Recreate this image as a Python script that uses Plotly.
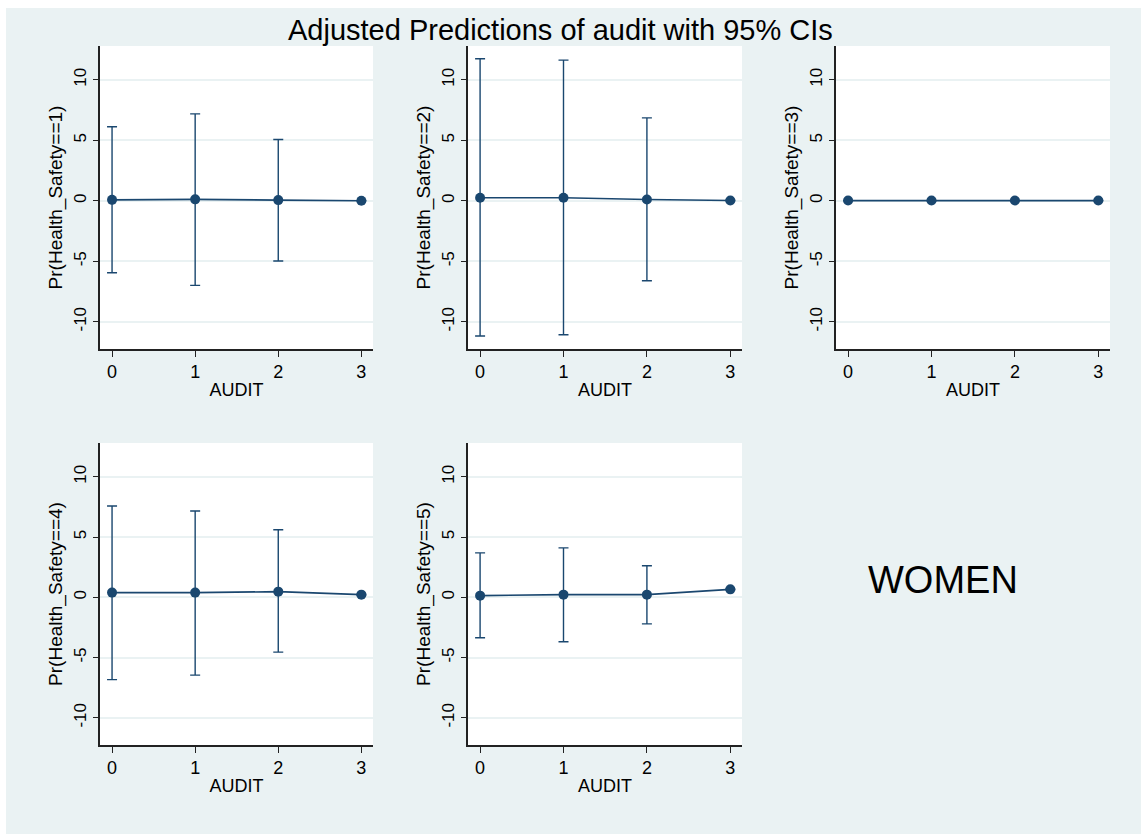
import plotly.graph_objects as go

W, H = 1141, 834
BG = "#EAF2F3"
NAVY = "#1a476f"
FONT = "Liberation Sans, Arial, sans-serif"

audit = [0, 1, 2, 3]
x_ticks = [0, 1, 2, 3]
y_ticks = [-10, -5, 0, 5, 10]
y_tick_labels = ["-10", "-5", "0", "5", "10"]

title_text = "Adjusted Predictions of audit with 95% CIs"
panel_label = "WOMEN"
x_title = "AUDIT"
y_titles = ["Pr(Health_Safety==1)", "Pr(Health_Safety==2)", "Pr(Health_Safety==3)",
            "Pr(Health_Safety==4)", "Pr(Health_Safety==5)"]

est_1 = [0.08, 0.12, 0.06, 0.01]
hi_1 = [6.12, 7.19, 5.07, 0.02]
lo_1 = [-5.95, -6.99, -4.98, 0.0]

est_2 = [0.25, 0.25, 0.11, 0.03]
hi_2 = [11.74, 11.63, 6.86, 0.05]
lo_2 = [-11.18, -11.07, -6.61, 0.01]

est_3 = [0.02, 0.02, 0.02, 0.02]
hi_3 = [0.03, 0.03, 0.03, 0.03]
lo_3 = [0.01, 0.01, 0.01, 0.01]

est_4 = [0.39, 0.39, 0.47, 0.22]
hi_4 = [7.58, 7.16, 5.60, 0.25]
lo_4 = [-6.83, -6.45, -4.55, 0.19]

est_5 = [0.14, 0.22, 0.22, 0.66]
hi_5 = [3.69, 4.10, 2.62, 0.70]
lo_5 = [-3.36, -3.69, -2.20, 0.62]

panels = [(est_1, hi_1, lo_1), (est_2, hi_2, lo_2), (est_3, hi_3, lo_3),
          (est_4, hi_4, lo_4), (est_5, hi_5, lo_5)]

# pixel boxes of plot regions (left, right, top, bottom)
boxes = [(100, 373, 46, 349), (468, 742, 46, 349), (836, 1110, 46, 349),
         (100, 373, 443, 745), (468, 742, 443, 745)]

fig = go.Figure()
layout = dict(
    width=W, height=H,
    margin=dict(l=0, r=0, t=0, b=0),
    paper_bgcolor=BG, plot_bgcolor="white",
    showlegend=False,
    font=dict(family=FONT, color="black"),
)

for i, ((est, hi, lo), (l, r, t, b)) in enumerate(zip(panels, boxes)):
    n = i + 1
    xa = "x" if n == 1 else f"x{n}"
    ya = "y" if n == 1 else f"y{n}"
    plus = [h - e for h, e in zip(hi, est)]
    minus = [e - lo_ for e, lo_ in zip(est, lo)]
    fig.add_trace(go.Scatter(
        x=audit, y=est, mode="lines+markers", xaxis=xa, yaxis=ya,
        line=dict(color=NAVY, width=1.6),
        marker=dict(color=NAVY, size=10),
        error_y=dict(type="data", array=plus, arrayminus=minus, symmetric=False,
                     color=NAVY, thickness=1.4, width=5),
        cliponaxis=False,
    ))
    xkey = "xaxis" if n == 1 else f"xaxis{n}"
    ykey = "yaxis" if n == 1 else f"yaxis{n}"
    layout[xkey] = dict(
        domain=[l / W, r / W], anchor=ya, range=[-0.145, 3.14],
        tickvals=x_ticks, ticktext=[str(v) for v in x_ticks],
        showgrid=False, zeroline=False,
        showline=True, linecolor="#222222", linewidth=1.5,
        ticks="outside", ticklen=6, tickwidth=1.4, tickcolor="#222222",
        tickfont=dict(size=18, family=FONT, color="black"),
        title=dict(text=x_title, font=dict(size=18, family=FONT, color="black"), standoff=2),
        fixedrange=True,
    )
    layout[ykey] = dict(
        domain=[1 - b / H, 1 - t / H], anchor=xa, range=[-12.25, 12.8],
        tickvals=y_ticks, ticktext=y_tick_labels, tickangle=-90,
        showgrid=True, gridcolor=BG, gridwidth=2, zeroline=False,
        showline=True, linecolor="#222222", linewidth=1.5,
        ticks="outside", ticklen=5, tickwidth=1.4, tickcolor="#222222",
        tickfont=dict(size=17, family=FONT, color="black"),
        title=dict(text=y_titles[i], font=dict(size=19, family=FONT, color="black"), standoff=4),
        fixedrange=True,
    )

layout["shapes"] = [
    dict(type="rect", xref="paper", yref="paper", x0=0, x1=6 / W, y0=0, y1=1,
         fillcolor="white", line=dict(width=0), layer="below"),
    dict(type="rect", xref="paper", yref="paper", x0=0, x1=1, y0=1 - 8 / H, y1=1,
         fillcolor="white", line=dict(width=0), layer="below"),
]
layout["annotations"] = [
    dict(text=title_text, xref="paper", yref="paper", x=560 / W, y=1 - 30 / H,
         xanchor="center", yanchor="middle", showarrow=False,
         font=dict(size=29, family=FONT, color="black")),
    dict(text=panel_label, xref="paper", yref="paper", x=943 / W, y=1 - 580 / H,
         xanchor="center", yanchor="middle", showarrow=False,
         font=dict(size=38, family=FONT, color="black")),
]

fig.update_layout(**layout)
fig.write_html("out.html")
